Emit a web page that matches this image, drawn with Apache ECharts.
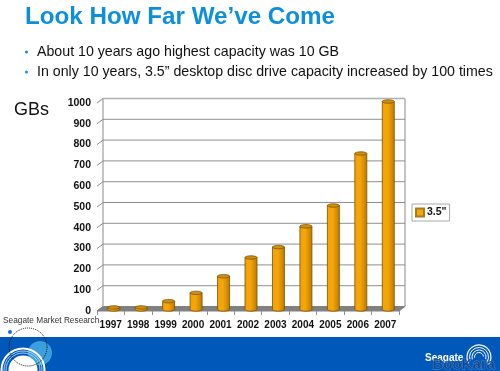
<!DOCTYPE html>
<html>
<head>
<meta charset="utf-8">
<style>
  html, body { margin: 0; padding: 0; background: #fff; }
  #chart { width: 500px; height: 371px; }
</style>
<script src="https://cdn.jsdelivr.net/npm/echarts@6/dist/echarts.min.js"></script>
</head>
<body>
<div id="chart"></div>
<script>
const years = ['1997', '1998', '1999', '2000', '2001', '2002', '2003', '2004', '2005', '2006', '2007']
const capacity = [10, 10, 40, 80, 160, 250, 300, 400, 500, 750, 1000]
const yTicks = [0, 100, 200, 300, 400, 500, 600, 700, 800, 900, 1000]
const seriesName = '3.5"'
const titleText = 'Look How Far We\u2019ve Come'
const bullets = [
  'About 10 years ago highest capacity was 10 GB',
  'In only 10 years, 3.5\u201d desktop disc drive capacity increased by 100 times'
]

const font = 'Liberation Sans'
const depthX = 6
const depthY = -4.5

const chart = echarts.init(document.getElementById('chart'), null, { renderer: 'canvas' })

// back wall + gridlines, drawn from the value axis
const renderWall = (params, api) => {
  const v = api.value(0)
  const left = params.coordSys.x
  const right = left + params.coordSys.width
  const y = api.coord([0, v])[1]
  const children = [{
    type: 'polyline',
    shape: { points: [[left, y], [left + depthX, y + depthY], [right + depthX, y + depthY]] },
    style: { stroke: '#8f8f8f', lineWidth: 1, fill: null }
  }]
  if (v === 0) {
    const top = api.coord([0, 1000])[1]
    children.push({
      type: 'polygon',
      shape: { points: [[left, y], [left + depthX, y + depthY], [right + depthX, y + depthY], [right, y]] },
      style: { fill: '#808080', stroke: '#808080' }
    })
    children.push({
      type: 'line',
      shape: { x1: left + depthX, y1: y + depthY, x2: left + depthX, y2: top + depthY },
      style: { stroke: '#b0b0b0', lineWidth: 1.5 }
    })
    children.push({
      type: 'line',
      shape: { x1: right + depthX, y1: y + depthY, x2: right + depthX, y2: top + depthY },
      style: { stroke: '#b0b0b0', lineWidth: 1.5 }
    })
  }
  if (v === 1000) {
    children[0].style = { stroke: '#b0b0b0', lineWidth: 1.5, fill: null }
  }
  return { type: 'group', children }
}

const renderCylinder = (params, api) => {
  const base = api.coord([api.value(0), 0])
  const top = api.coord([api.value(0), api.value(1)])
  const cx = base[0] + 3
  const w = 12
  const rx = w / 2
  const ry = 1.7
  const y0 = base[1] - 1.5
  const y1 = top[1] - 1.5
  const edge = '#7a5000'
  const side = new echarts.graphic.LinearGradient(0, 0, 1, 0, [
    { offset: 0, color: '#f2a205' },
    { offset: 0.45, color: '#f5a607' },
    { offset: 1, color: '#b87a05' }
  ])
  return {
    type: 'group',
    children: [
      {
        type: 'path',
        shape: {
          pathData: `M${cx - rx} ${y1} L${cx - rx} ${y0} A${rx} ${ry} 0 0 0 ${cx + rx} ${y0} L${cx + rx} ${y1} Z`
        },
        style: { fill: side, stroke: edge, lineWidth: 0.8 }
      },
      {
        type: 'ellipse',
        shape: { cx, cy: y1, rx, ry },
        style: { fill: '#d0920e', stroke: edge, lineWidth: 0.8 }
      }
    ]
  }
}

const option = {
  animation: false,
  backgroundColor: '#fff',
  grid: { left: 97, right: 101, top: 103, bottom: 60 },
  legend: {
    left: 412,
    top: 204,
    orient: 'vertical',
    data: [{ name: seriesName, icon: 'rect' }],
    itemWidth: 8,
    itemHeight: 8,
    itemGap: 0,
    padding: 3,
    borderColor: '#a8a8a8',
    borderWidth: 1,
    backgroundColor: '#fff',
    selectedMode: false,
    textStyle: {
      fontFamily: font,
      fontSize: 10.5,
      lineHeight: 9,
      fontWeight: 'bold',
      color: '#111',
      padding: [0, 0, 0, -2]
    }
  },
  xAxis: {
    type: 'category',
    data: years,
    axisLine: { show: false },
    axisTick: { show: true, length: 4, lineStyle: { color: '#8f8f8f' } },
    axisLabel: { interval: 0, margin: 9, fontFamily: font, fontSize: 10, fontWeight: 'bold', color: '#111' },
    z: 3
  },
  yAxis: {
    type: 'value',
    min: 0,
    max: 1000,
    interval: 100,
    axisLine: { show: false },
    axisTick: { show: false },
    splitLine: { show: false },
    axisLabel: {
      margin: 6,
      fontFamily: font,
      fontSize: 10.5,
      fontWeight: 'bold',
      color: '#111',
      formatter: value => String(value)
    }
  },
  series: [
    {
      type: 'custom',
      silent: true,
      renderItem: renderWall,
      encode: { y: 0 },
      clip: false,
      z: 1,
      data: yTicks.map(v => [v])
    },
    {
      name: seriesName,
      type: 'custom',
      renderItem: renderCylinder,
      encode: { x: 0, y: 1 },
      clip: false,
      z: 5,
      itemStyle: { color: '#f5a607', borderColor: '#a87a20', borderWidth: 1 },
      data: capacity.map((v, i) => [i, v])
    }
  ],
  graphic: [
    {
      type: 'text', left: 25, top: 5, z: 10,
      style: { text: titleText, fontFamily: font, fontSize: 24.2, fontWeight: 'bold', fill: '#0d8fdc' }
    },
    { type: 'circle', shape: { cx: 26.5, cy: 52, r: 1.5 }, style: { fill: '#0d8fdc' }, z: 10 },
    {
      type: 'text', left: 37, top: 45, z: 10,
      style: { text: bullets[0], fontFamily: font, fontSize: 14.2, fill: '#111' }
    },
    { type: 'circle', shape: { cx: 26.5, cy: 72, r: 1.5 }, style: { fill: '#0d8fdc' }, z: 10 },
    {
      type: 'text', left: 37, top: 65, z: 10,
      style: { text: bullets[1], fontFamily: font, fontSize: 14.2, fill: '#111' }
    },
    {
      type: 'text', left: 14, top: 101, z: 10,
      style: { text: 'GBs', fontFamily: font, fontSize: 18, fill: '#111' }
    },
    {
      type: 'rect', left: 0, top: 337, z: 0,
      shape: { width: 500, height: 34 },
      style: { fill: '#0058bb' }
    },
    {
      type: 'text', left: 3, top: 317, z: 10,
      style: { text: 'Seagate Market Research', fontFamily: font, fontSize: 8.3, fill: '#333' }
    },
    { type: 'circle', shape: { cx: 10, cy: 332, r: 2 }, style: { fill: '#1a6fe0' }, z: 10 },
    { type: 'circle', shape: { cx: 40, cy: 353, r: 12 }, style: { fill: '#3a9fdc' }, z: 6 },
    { type: 'circle', shape: { cx: 28, cy: 347, r: 19 }, style: { fill: 'none', stroke: '#111', lineWidth: 1, lineDash: [1, 1] }, z: 9 },
    { type: 'circle', shape: { cx: 23, cy: 370, r: 21.5 }, style: { fill: 'none', stroke: '#fff', lineWidth: 2 }, z: 8 },
    { type: 'circle', shape: { cx: 23, cy: 370, r: 19 }, style: { fill: 'none', stroke: '#a8d2f2', lineWidth: 1 }, z: 8 },
    { type: 'circle', shape: { cx: 23, cy: 370, r: 17 }, style: { fill: 'none', stroke: '#a8d2f2', lineWidth: 1 }, z: 8 },
    { type: 'circle', shape: { cx: 23, cy: 370, r: 14.5 }, style: { fill: '#fff' }, z: 8 },
    { type: 'arc', shape: { cx: 479, cy: 357, r: 12, startAngle: 2.6, endAngle: 7 }, style: { fill: 'none', stroke: '#fff', lineWidth: 1.2 }, z: 10 },
    { type: 'arc', shape: { cx: 479, cy: 357, r: 9.5, startAngle: 2.8, endAngle: 6.8 }, style: { fill: 'none', stroke: '#fff', lineWidth: 1 }, z: 10 },
    { type: 'arc', shape: { cx: 479, cy: 357, r: 7, startAngle: 2.8, endAngle: 6.6 }, style: { fill: 'none', stroke: '#fff', lineWidth: 1 }, z: 10 },
    { type: 'arc', shape: { cx: 479, cy: 357, r: 4.5, startAngle: 3, endAngle: 6.2 }, style: { fill: 'none', stroke: '#fff', lineWidth: 1 }, z: 10 },
    {
      type: 'text', left: 425, top: 353, z: 10,
      style: { text: 'Seagate', fontFamily: font, fontSize: 10, fontWeight: 'bold', fill: '#fff' }
    },
    // site watermark over the logo
    {
      type: 'text', left: 432, top: 357, z: 11,
      style: {
        text: 'BooKara',
        fontFamily: font,
        fontSize: 15,
        fontWeight: 'bold',
        fill: 'rgba(20,70,140,0.85)',
        stroke: 'rgba(190,215,240,0.4)',
        lineWidth: 0.8
      }
    }
  ]
}

chart.setOption(option)
</script>
</body>
</html>
